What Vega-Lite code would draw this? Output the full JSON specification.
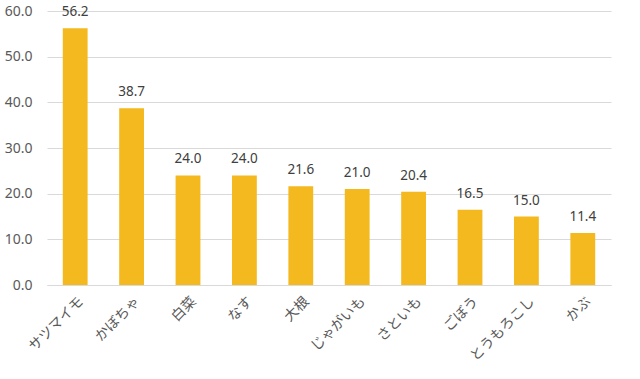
{
  "$schema": "https://vega.github.io/schema/vega-lite/v6.json",
  "autosize": "none",
  "width": 564,
  "height": 274,
  "padding": {"left": 47, "top": 11, "right": 29, "bottom": 94},
  "background": "white",
  "config": {"view": {"stroke": null}},
  "data": {"values": [
    {"item": "サツマイモ", "value": 56.2},
    {"item": "かぼちゃ", "value": 38.7},
    {"item": "白菜", "value": 24.0},
    {"item": "なす", "value": 24.0},
    {"item": "大根", "value": 21.6},
    {"item": "じゃがいも", "value": 21.0},
    {"item": "さといも", "value": 20.4},
    {"item": "ごぼう", "value": 16.5},
    {"item": "とうもろこし", "value": 15.0},
    {"item": "かぶ", "value": 11.4}
  ]},
  "encoding": {
    "x": {"field": "item", "type": "nominal", "sort": null,
      "scale": {"paddingInner": 0.56, "paddingOuter": 0.28},
      "axis": {"title": null, "labelAngle": -45, "labelAlign": "right", "labelBaseline": "middle", "labelPadding": 14, "labelOffset": 6, "ticks": false, "domainColor": "#d9d9d9", "domainWidth": 1, "labelColor": "#595959", "labelFont": "Noto Sans CJK JP", "labelFontSize": 14}},
    "y": {"field": "value", "type": "quantitative",
      "scale": {"domain": [0, 60], "nice": false},
      "axis": {"title": null, "values": [0, 10, 20, 30, 40, 50, 60], "format": ".1f", "domain": false, "ticks": false, "labelPadding": 15, "gridColor": "#d9d9d9", "gridWidth": 1, "labelColor": "#595959", "labelFont": "Noto Sans", "labelFontSize": 14}}
  },
  "layer": [
    {"mark": {"type": "bar", "color": "#F4B91F"}},
    {"mark": {"type": "text", "dy": -9, "baseline": "bottom", "fontSize": 13.5, "font": "Noto Sans", "color": "#404040"},
     "encoding": {"text": {"field": "value", "type": "quantitative", "format": ".1f"}}}
  ]
}
